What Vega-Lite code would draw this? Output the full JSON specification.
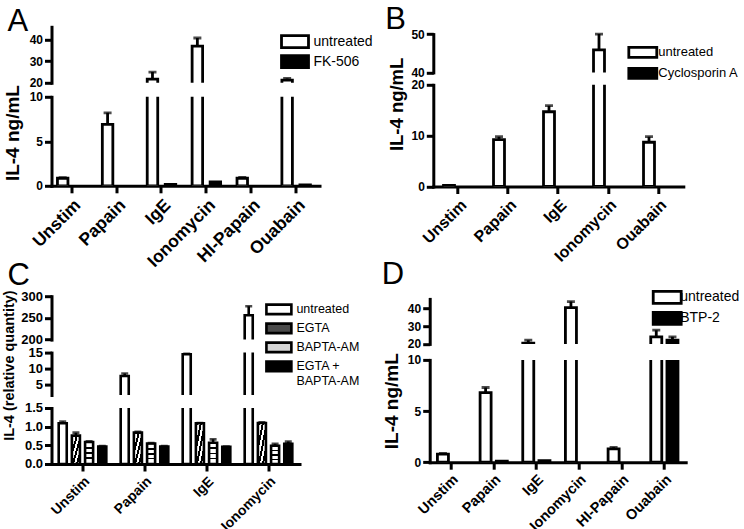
{
"$schema":"https://vega.github.io/schema/vega-lite/v6.json",
"background":"white",
"padding":{"left":0.5,"top":3.8,"right":2,"bottom":2},
"spacing":-12.6,
"resolve":{"scale":{"fill":"independent","xOffset":"independent"},"legend":{"fill":"independent"}},
"datasets":{
"A":[
{"cat":"Unstim","t":"untreated","v":0.85,"e":0.92},
{"cat":"Papain","t":"untreated","v":6.9,"e":8.2},
{"cat":"IgE","t":"untreated","v":21.7,"e":25},
{"cat":"IgE","t":"FK-506","v":0.15},
{"cat":"Ionomycin","t":"untreated","v":37,"e":40.8},
{"cat":"Ionomycin","t":"FK-506","v":0.45},
{"cat":"HI-Papain","t":"untreated","v":0.85,"e":0.95},
{"cat":"Ouabain","t":"untreated","v":21.2,"e":22},
{"cat":"Ouabain","t":"FK-506","v":0.1}
],
"B":[
{"cat":"Unstim","t":"untreated","v":0.2},
{"cat":"Papain","t":"untreated","v":9.2,"e":9.8},
{"cat":"IgE","t":"untreated","v":14.7,"e":15.9},
{"cat":"Ionomycin","t":"untreated","v":45.9,"e":50},
{"cat":"Ouabain","t":"untreated","v":8.7,"e":9.8}
],
"C":[
{"cat":"Unstim","t":"untreated","v":1.09,"e":1.14},
{"cat":"Unstim","t":"EGTA","v":0.76,"e":0.84},
{"cat":"Unstim","t":"BAPTA-AM","v":0.59,"e":0.61},
{"cat":"Unstim","t":"EGTA + BAPTA-AM","v":0.47,"e":0.48},
{"cat":"Papain","t":"untreated","v":7.6,"e":8.4},
{"cat":"Papain","t":"EGTA","v":0.84,"e":0.86},
{"cat":"Papain","t":"BAPTA-AM","v":0.55,"e":0.56},
{"cat":"Papain","t":"EGTA + BAPTA-AM","v":0.47,"e":0.48},
{"cat":"IgE","t":"untreated","v":14.5,"e":14.8},
{"cat":"IgE","t":"EGTA","v":1.09,"e":1.1},
{"cat":"IgE","t":"BAPTA-AM","v":0.57,"e":0.66},
{"cat":"IgE","t":"EGTA + BAPTA-AM","v":0.46,"e":0.47},
{"cat":"Ionomycin","t":"untreated","v":256,"e":277},
{"cat":"Ionomycin","t":"EGTA","v":1.1,"e":1.12},
{"cat":"Ionomycin","t":"BAPTA-AM","v":0.49,"e":0.54},
{"cat":"Ionomycin","t":"EGTA + BAPTA-AM","v":0.54,"e":0.6}
],
"D":[
{"cat":"Unstim","t":"untreated","v":0.78,"e":0.85},
{"cat":"Papain","t":"untreated","v":6.8,"e":7.3},
{"cat":"Papain","t":"BTP-2","v":0.1},
{"cat":"IgE","t":"untreated","v":20.4,"e":22.1},
{"cat":"IgE","t":"BTP-2","v":0.15},
{"cat":"Ionomycin","t":"untreated","v":40.6,"e":44},
{"cat":"HI-Papain","t":"untreated","v":1.3,"e":1.45},
{"cat":"Ouabain","t":"untreated","v":24,"e":27.8},
{"cat":"Ouabain","t":"BTP-2","v":22.1,"e":24}
]
},
"vconcat":[
{"hconcat":[
{"title":{"text":"A","dx":-44,"dy":34.8,"offset":0,"baseline":"alphabetic"},
 "spacing":14,"bounds":"flush","data":{"name":"A"},
 "vconcat":[
 {"width":268,"height":56,
  "transform":[{"filter":"datum.v > 20"}],
  "encoding":{
   "x":{"field":"cat","type":"nominal","sort":null,"scale":{"domain":["Unstim","Papain","IgE","Ionomycin","HI-Papain","Ouabain"],"paddingInner":0.1,"paddingOuter":0.035,"align":0},"axis":null},
   "xOffset":{"field":"t","type":"nominal","scale":{"domain":["untreated","FK-506"],"paddingInner":0.417,"paddingOuter":0.33}},
   "y":{"field":"v","type":"quantitative","scale":{"domain":[20,46]},"axis":{"values":[20,30,40],"title":null}}
  },
  "layer":[
   {"mark":{"type":"bar","stroke":"black","strokeWidth":2.8,"clip":true},
    "encoding":{"y2":{"datum":0},
     "fill":{"field":"t","type":"nominal","scale":{"domain":["untreated","FK-506"],"range":["white","black"]},
      "legend":{"orient":"none","legendX":236,"legendY":7.3,"title":null,"symbolType":"M-2.25,-1H2.25V1H-2.25Z","symbolSize":144,"symbolStrokeColor":"black","symbolStrokeWidth":2.8,"labelFontSize":14,"labelOffset":11,"rowPadding":-5}}}},
   {"transform":[{"filter":"isValid(datum.e)"}],"mark":{"type":"rule","color":"black","strokeWidth":2.8,"clip":true},"encoding":{"y2":{"field":"e"}}},
   {"transform":[{"filter":"isValid(datum.e)"}],"mark":{"type":"tick","color":"black","thickness":2.8,"size":8,"clip":true},
    "encoding":{"y":{"field":"e","type":"quantitative","scale":{"domain":[20,46]},"axis":{"values":[20,30,40],"title":null}}}}
  ]},
 {"width":268,"height":89,
  "encoding":{
   "x":{"field":"cat","type":"nominal","sort":null,"scale":{"domain":["Unstim","Papain","IgE","Ionomycin","HI-Papain","Ouabain"],"paddingInner":0.1,"paddingOuter":0.035,"align":0},"axis":{"title":null,"labelFontSize":17.5}},
   "xOffset":{"field":"t","type":"nominal","scale":{"domain":["untreated","FK-506"],"paddingInner":0.417,"paddingOuter":0.33}},
   "y":{"field":"v","type":"quantitative","scale":{"domain":[0,10]},"axis":{"values":[0,5,10],"title":"IL-4 ng/mL","titleFontSize":19,"titleX":-33.5,"titleY":35.8,"titleBaseline":"alphabetic"}}
  },
  "layer":[
   {"mark":{"type":"bar","stroke":"black","strokeWidth":2.8,"clip":true},
    "encoding":{"y2":{"datum":0},
     "fill":{"field":"t","type":"nominal","scale":{"domain":["untreated","FK-506"],"range":["white","black"]},
      "legend":{"orient":"none","legendX":236,"legendY":7.3,"title":null,"symbolType":"M-2.25,-1H2.25V1H-2.25Z","symbolSize":144,"symbolStrokeColor":"black","symbolStrokeWidth":2.8,"labelFontSize":14,"labelOffset":11,"rowPadding":-5}}}},
   {"transform":[{"filter":"isValid(datum.e)"}],"mark":{"type":"rule","color":"black","strokeWidth":2.8,"clip":true},"encoding":{"y2":{"field":"e"}}},
   {"transform":[{"filter":"isValid(datum.e)"}],"mark":{"type":"tick","color":"black","thickness":2.8,"size":8,"clip":true},
    "encoding":{"y":{"field":"e","type":"quantitative","scale":{"domain":[0,10]},"axis":{"values":[0,5,10],"title":"IL-4 ng/mL","titleFontSize":19,"titleX":-33.5,"titleY":35.8,"titleBaseline":"alphabetic"}}}}
  ]}
 ]},
{"title":{"text":"B","dx":-48,"dy":33.4,"offset":0,"baseline":"alphabetic"},
 "spacing":12,"bounds":"flush","data":{"name":"B"},
 "vconcat":[
 {"width":250,"height":45.6,
  "transform":[{"filter":"datum.v > 40"}],
  "encoding":{
   "x":{"field":"cat","type":"nominal","sort":null,"scale":{"domain":["Unstim","Papain","IgE","Ionomycin","Ouabain"],"paddingInner":0.1,"paddingOuter":0.05},"axis":null},
   "xOffset":{"field":"t","type":"nominal","scale":{"domain":["untreated","Cyclosporin A"],"paddingInner":0.41,"paddingOuter":0.415}},
   "y":{"field":"v","type":"quantitative","scale":{"domain":[40,50],"range":[45.6,7.3]},"axis":{"values":[40,50],"title":null}}
  },
  "layer":[
   {"mark":{"type":"bar","stroke":"black","strokeWidth":2.8,"clip":true},
    "encoding":{"y2":{"datum":0},
     "fill":{"field":"t","type":"nominal","scale":{"domain":["untreated","Cyclosporin A"],"range":["white","black"]},
      "legend":{"orient":"none","legendX":202,"legendY":18,"title":null,"symbolType":"M-2.33,-0.83H2.33V0.83H-2.33Z","symbolSize":144,"symbolStrokeColor":"black","symbolStrokeWidth":2.8,"labelFontSize":13,"labelOffset":8,"rowPadding":-2}}}},
   {"transform":[{"filter":"isValid(datum.e)"}],"mark":{"type":"rule","color":"black","strokeWidth":2.8,"clip":true},"encoding":{"y2":{"field":"e"}}},
   {"transform":[{"filter":"isValid(datum.e)"}],"mark":{"type":"tick","color":"black","thickness":2.8,"size":8,"clip":true},
    "encoding":{"y":{"field":"e","type":"quantitative","scale":{"domain":[40,50],"range":[45.6,7.3]},"axis":{"values":[40,50],"title":null}}}}
  ]},
 {"width":250,"height":101.7,
  "encoding":{
   "x":{"field":"cat","type":"nominal","sort":null,"scale":{"domain":["Unstim","Papain","IgE","Ionomycin","Ouabain"],"paddingInner":0.1,"paddingOuter":0.05},"axis":{"title":null,"labelFontSize":16}},
   "xOffset":{"field":"t","type":"nominal","scale":{"domain":["untreated","Cyclosporin A"],"paddingInner":0.41,"paddingOuter":0.415}},
   "y":{"field":"v","type":"quantitative","scale":{"domain":[0,20]},"axis":{"values":[0,10,20],"title":"IL-4 ng/mL","titleFontSize":18.5,"titleX":-31,"titleY":19.1,"titleBaseline":"alphabetic"}}
  },
  "layer":[
   {"mark":{"type":"bar","stroke":"black","strokeWidth":2.8,"clip":true},
    "encoding":{"y2":{"datum":0},
     "fill":{"field":"t","type":"nominal","scale":{"domain":["untreated","Cyclosporin A"],"range":["white","black"]},
      "legend":{"orient":"none","legendX":202,"legendY":18,"title":null,"symbolType":"M-2.33,-0.83H2.33V0.83H-2.33Z","symbolSize":144,"symbolStrokeColor":"black","symbolStrokeWidth":2.8,"labelFontSize":13,"labelOffset":8,"rowPadding":-2}}}},
   {"transform":[{"filter":"isValid(datum.e)"}],"mark":{"type":"rule","color":"black","strokeWidth":2.8,"clip":true},"encoding":{"y2":{"field":"e"}}},
   {"transform":[{"filter":"isValid(datum.e)"}],"mark":{"type":"tick","color":"black","thickness":2.8,"size":8,"clip":true},
    "encoding":{"y":{"field":"e","type":"quantitative","scale":{"domain":[0,20]},"axis":{"values":[0,10,20],"title":"IL-4 ng/mL","titleFontSize":18.5,"titleX":-31,"titleY":19.1,"titleBaseline":"alphabetic"}}}}
  ]}
 ]}
],"spacing":11.8,"resolve":{"scale":{"fill":"independent","xOffset":"independent"},"legend":{"fill":"independent"}}},
{"hconcat":[
{"title":{"text":"C","dx":-44,"dy":26.1,"offset":0,"baseline":"alphabetic"},
 "spacing":12.4,"bounds":"flush","data":{"name":"C"},
 "vconcat":[
 {"width":248,"height":43.4,
  "transform":[{"filter":"datum.v > 200"}],
  "encoding":{
   "x":{"field":"cat","type":"nominal","sort":null,"scale":{"domain":["Unstim","Papain","IgE","Ionomycin"],"paddingInner":0.1,"paddingOuter":0.05},"axis":null},
   "xOffset":{"field":"t","type":"nominal","scale":{"domain":["untreated","EGTA","BAPTA-AM","EGTA + BAPTA-AM"],"paddingInner":0.39,"paddingOuter":0.31}},
   "y":{"field":"v","type":"quantitative","scale":{"domain":[200,300]},"axis":{"values":[200,250,300],"title":null,"labelFontSize":13}}
  },
  "layer":[
   {"mark":{"type":"bar","stroke":"black","strokeWidth":2.6,"clip":true},
    "encoding":{"y2":{"datum":0},
     "fill":{"condition":[
       {"test":"datum.t == 'EGTA'","value":{"gradient":"linear","x1":0,"y1":0,"x2":1,"y2":1,"stops":[{"offset":0,"color":"black"},{"offset":0.125,"color":"black"},{"offset":0.125,"color":"white"},{"offset":0.25,"color":"white"},{"offset":0.25,"color":"black"},{"offset":0.375,"color":"black"},{"offset":0.375,"color":"white"},{"offset":0.5,"color":"white"},{"offset":0.5,"color":"black"},{"offset":0.625,"color":"black"},{"offset":0.625,"color":"white"},{"offset":0.75,"color":"white"},{"offset":0.75,"color":"black"},{"offset":0.875,"color":"black"},{"offset":0.875,"color":"white"},{"offset":1,"color":"white"}]}},
       {"test":"datum.t == 'BAPTA-AM'","value":{"gradient":"linear","x1":0,"y1":0,"x2":0,"y2":1,"stops":[{"offset":0,"color":"white"},{"offset":0.22,"color":"white"},{"offset":0.22,"color":"black"},{"offset":0.3,"color":"black"},{"offset":0.3,"color":"white"},{"offset":0.46,"color":"white"},{"offset":0.46,"color":"black"},{"offset":0.54,"color":"black"},{"offset":0.54,"color":"white"},{"offset":0.7,"color":"white"},{"offset":0.7,"color":"black"},{"offset":0.78,"color":"black"},{"offset":0.78,"color":"white"},{"offset":1,"color":"white"}]}}],
      "field":"t","type":"nominal","scale":{"domain":["untreated","EGTA","BAPTA-AM","EGTA + BAPTA-AM"],"range":["white","#4a4a4a","#d4d4d4","black"]},
      "legend":{"orient":"none","legendX":219.9,"legendY":5.7,"title":null,"symbolType":"M-2.08,-0.79H2.08V0.79H-2.08Z","symbolSize":144,"symbolStrokeColor":"black","symbolStrokeWidth":2.6,"labelFontSize":12.5,"labelOffset":10,"rowPadding":-2,"labelExpr":"datum.label == 'EGTA + BAPTA-AM' ? ['EGTA +', 'BAPTA-AM'] : datum.label"}}}},
   {"transform":[{"filter":"isValid(datum.e)"}],"mark":{"type":"rule","color":"black","strokeWidth":2.6,"clip":true},"encoding":{"y2":{"field":"e"}}},
   {"transform":[{"filter":"isValid(datum.e)"}],"mark":{"type":"tick","color":"black","thickness":2.6,"size":7,"clip":true},
    "encoding":{"y":{"field":"e","type":"quantitative","scale":{"domain":[200,300]},"axis":{"values":[200,250,300],"title":null,"labelFontSize":13}}}}
  ]},
 {"width":248,"height":42.4,
  "transform":[{"filter":"datum.v > 1.6"}],
  "encoding":{
   "x":{"field":"cat","type":"nominal","sort":null,"scale":{"domain":["Unstim","Papain","IgE","Ionomycin"],"paddingInner":0.1,"paddingOuter":0.05},"axis":null},
   "xOffset":{"field":"t","type":"nominal","scale":{"domain":["untreated","EGTA","BAPTA-AM","EGTA + BAPTA-AM"],"paddingInner":0.39,"paddingOuter":0.31}},
   "y":{"field":"v","type":"quantitative","scale":{"domain":[1.6,15]},"axis":{"values":[5,10,15],"title":null,"labelFontSize":13}}
  },
  "layer":[
   {"mark":{"type":"bar","stroke":"black","strokeWidth":2.6,"clip":true,"fill":"white"},
    "encoding":{"y2":{"datum":0}}},
   {"transform":[{"filter":"isValid(datum.e)"}],"mark":{"type":"rule","color":"black","strokeWidth":2.6,"clip":true},"encoding":{"y2":{"field":"e"}}},
   {"transform":[{"filter":"isValid(datum.e)"}],"mark":{"type":"tick","color":"black","thickness":2.6,"size":7,"clip":true},
    "encoding":{"y":{"field":"e","type":"quantitative","scale":{"domain":[1.6,15]},"axis":{"values":[5,10,15],"title":null,"labelFontSize":13}}}}
  ]},
 {"width":248,"height":56,
  "encoding":{
   "x":{"field":"cat","type":"nominal","sort":null,"scale":{"domain":["Unstim","Papain","IgE","Ionomycin"],"paddingInner":0.1,"paddingOuter":0.05},"axis":{"title":null,"labelFontSize":14}},
   "xOffset":{"field":"t","type":"nominal","scale":{"domain":["untreated","EGTA","BAPTA-AM","EGTA + BAPTA-AM"],"paddingInner":0.39,"paddingOuter":0.31}},
   "y":{"field":"v","type":"quantitative","scale":{"domain":[0,1.5]},"axis":{"values":[0,0.5,1,1.5],"format":".1f","title":"IL-4 (relative quantity)","titleFontSize":14.5,"titleX":-38,"titleY":-42.9,"titleBaseline":"alphabetic","labelFontSize":13}}
  },
  "layer":[
   {"mark":{"type":"bar","stroke":"black","strokeWidth":2.6,"clip":true},
    "encoding":{"y2":{"datum":0},
     "fill":{"condition":[
       {"test":"datum.t == 'EGTA'","value":{"gradient":"linear","x1":0,"y1":0,"x2":1,"y2":1,"stops":[{"offset":0,"color":"black"},{"offset":0.125,"color":"black"},{"offset":0.125,"color":"white"},{"offset":0.25,"color":"white"},{"offset":0.25,"color":"black"},{"offset":0.375,"color":"black"},{"offset":0.375,"color":"white"},{"offset":0.5,"color":"white"},{"offset":0.5,"color":"black"},{"offset":0.625,"color":"black"},{"offset":0.625,"color":"white"},{"offset":0.75,"color":"white"},{"offset":0.75,"color":"black"},{"offset":0.875,"color":"black"},{"offset":0.875,"color":"white"},{"offset":1,"color":"white"}]}},
       {"test":"datum.t == 'BAPTA-AM'","value":{"gradient":"linear","x1":0,"y1":0,"x2":0,"y2":1,"stops":[{"offset":0,"color":"white"},{"offset":0.22,"color":"white"},{"offset":0.22,"color":"black"},{"offset":0.3,"color":"black"},{"offset":0.3,"color":"white"},{"offset":0.46,"color":"white"},{"offset":0.46,"color":"black"},{"offset":0.54,"color":"black"},{"offset":0.54,"color":"white"},{"offset":0.7,"color":"white"},{"offset":0.7,"color":"black"},{"offset":0.78,"color":"black"},{"offset":0.78,"color":"white"},{"offset":1,"color":"white"}]}}],
      "field":"t","type":"nominal","scale":{"domain":["untreated","EGTA","BAPTA-AM","EGTA + BAPTA-AM"],"range":["white","#4a4a4a","#d4d4d4","black"]},
      "legend":{"orient":"none","legendX":219.9,"legendY":5.7,"title":null,"symbolType":"M-2.08,-0.79H2.08V0.79H-2.08Z","symbolSize":144,"symbolStrokeColor":"black","symbolStrokeWidth":2.6,"labelFontSize":12.5,"labelOffset":10,"rowPadding":-2,"labelExpr":"datum.label == 'EGTA + BAPTA-AM' ? ['EGTA +', 'BAPTA-AM'] : datum.label"}}}},
   {"transform":[{"filter":"isValid(datum.e)"}],"mark":{"type":"rule","color":"black","strokeWidth":2.6,"clip":true},"encoding":{"y2":{"field":"e"}}},
   {"transform":[{"filter":"isValid(datum.e)"}],"mark":{"type":"tick","color":"black","thickness":2.6,"size":7,"clip":true},
    "encoding":{"y":{"field":"e","type":"quantitative","scale":{"domain":[0,1.5]},"axis":{"values":[0,0.5,1,1.5],"format":".1f","title":"IL-4 (relative quantity)","titleFontSize":14.5,"titleX":-38,"titleY":-42.9,"titleBaseline":"alphabetic","labelFontSize":13}}}}
  ]}
 ]},
{"title":{"text":"D","dx":-48,"dy":24.7,"offset":0,"baseline":"alphabetic"},
 "spacing":15.7,"bounds":"flush","data":{"name":"D"},
 "vconcat":[
 {"width":256,"height":47.7,
  "transform":[{"filter":"datum.v > 20"}],
  "encoding":{
   "x":{"field":"cat","type":"nominal","sort":null,"scale":{"domain":["Unstim","Papain","IgE","Ionomycin","HI-Papain","Ouabain"],"paddingInner":0,"paddingOuter":0},"axis":null},
   "xOffset":{"field":"t","type":"nominal","scale":{"domain":["untreated","BTP-2"],"paddingInner":0.32,"paddingOuter":0.477}},
   "y":{"field":"v","type":"quantitative","scale":{"domain":[20,45.5],"range":[47.7,2.7]},"axis":{"values":[20,30,40],"title":null}}
  },
  "layer":[
   {"mark":{"type":"bar","stroke":"black","strokeWidth":2.8,"clip":true},
    "encoding":{"y2":{"datum":0},
     "fill":{"field":"t","type":"nominal","scale":{"domain":["untreated","BTP-2"],"range":["white","black"]},
      "legend":{"orient":"none","legendX":230,"legendY":-6.3,"title":null,"symbolType":"M-2.33,-1H2.33V1H-2.33Z","symbolSize":144,"symbolStrokeColor":"black","symbolStrokeWidth":2.8,"labelFontSize":14,"labelOffset":5.5,"rowPadding":-4}}}},
   {"transform":[{"filter":"isValid(datum.e)"}],"mark":{"type":"rule","color":"black","strokeWidth":2.8,"clip":true},"encoding":{"y2":{"field":"e"}}},
   {"transform":[{"filter":"isValid(datum.e)"}],"mark":{"type":"tick","color":"black","thickness":2.8,"size":8,"clip":true},
    "encoding":{"y":{"field":"e","type":"quantitative","scale":{"domain":[20,45.5],"range":[47.7,2.7]},"axis":{"values":[20,30,40],"title":null}}}}
  ]},
 {"width":256,"height":102.3,
  "encoding":{
   "x":{"field":"cat","type":"nominal","sort":null,"scale":{"domain":["Unstim","Papain","IgE","Ionomycin","HI-Papain","Ouabain"],"paddingInner":0,"paddingOuter":0},"axis":{"title":null,"labelFontSize":14.5}},
   "xOffset":{"field":"t","type":"nominal","scale":{"domain":["untreated","BTP-2"],"paddingInner":0.32,"paddingOuter":0.477}},
   "y":{"field":"v","type":"quantitative","scale":{"domain":[0,10]},"axis":{"values":[0,5,10],"title":"IL-4 ng/mL","titleFontSize":19,"titleX":-32,"titleY":40.8,"titleBaseline":"alphabetic"}}
  },
  "layer":[
   {"mark":{"type":"bar","stroke":"black","strokeWidth":2.8,"clip":true},
    "encoding":{"y2":{"datum":0},
     "fill":{"field":"t","type":"nominal","scale":{"domain":["untreated","BTP-2"],"range":["white","black"]},
      "legend":{"orient":"none","legendX":230,"legendY":-6.3,"title":null,"symbolType":"M-2.33,-1H2.33V1H-2.33Z","symbolSize":144,"symbolStrokeColor":"black","symbolStrokeWidth":2.8,"labelFontSize":14,"labelOffset":5.5,"rowPadding":-4}}}},
   {"transform":[{"filter":"isValid(datum.e)"}],"mark":{"type":"rule","color":"black","strokeWidth":2.8,"clip":true},"encoding":{"y2":{"field":"e"}}},
   {"transform":[{"filter":"isValid(datum.e)"}],"mark":{"type":"tick","color":"black","thickness":2.8,"size":8,"clip":true},
    "encoding":{"y":{"field":"e","type":"quantitative","scale":{"domain":[0,10]},"axis":{"values":[0,5,10],"title":"IL-4 ng/mL","titleFontSize":19,"titleX":-32,"titleY":40.8,"titleBaseline":"alphabetic"}}}}
  ]}
 ]}
],"spacing":22.2,"resolve":{"scale":{"fill":"independent","xOffset":"independent"},"legend":{"fill":"independent"}}}
],
"config":{
 "font":"Liberation Sans",
 "view":{"stroke":null},
 "axis":{"domainColor":"black","domainWidth":3,"domainCap":"square","tickColor":"black","tickWidth":3,"tickSize":7,"labelColor":"black","labelFont":"Liberation Sans","labelFontWeight":"bold","labelFontSize":12,"labelPadding":2,"grid":false,"titleColor":"black","titleFont":"Liberation Sans","titleFontWeight":"bold","labelFlush":false,"labelOverlap":false,"labelBound":false},
 "axisX":{"labelAngle":-45,"labelPadding":3},
 "legend":{"labelFont":"Liberation Sans","labelColor":"black","padding":0},
 "title":{"fontSize":31,"fontWeight":"normal","anchor":"start","color":"black","font":"Liberation Sans","frame":"group"}
}
}
